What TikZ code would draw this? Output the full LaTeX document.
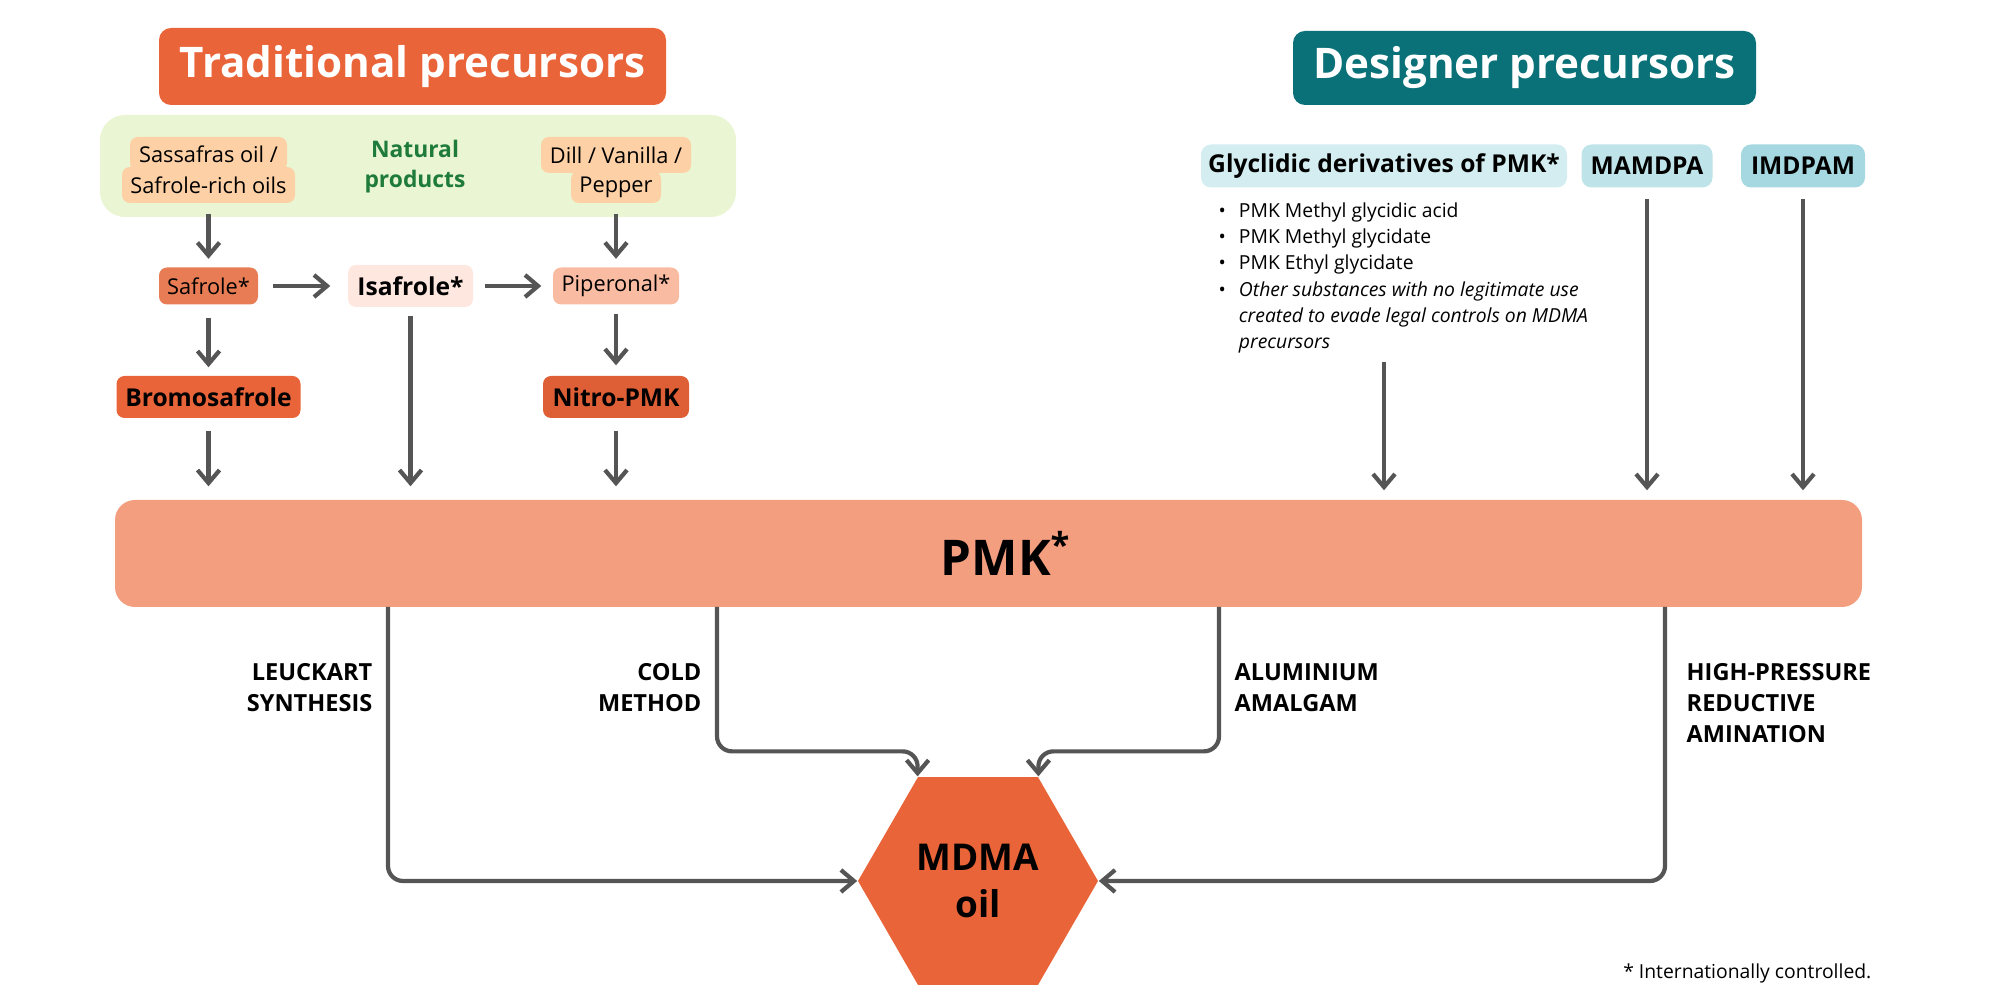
\documentclass[tikz,border=0pt]{standalone}
\usepackage{fontspec}
\setmainfont{Open Sans}
\usepackage{xcolor}
\usetikzlibrary{arrows.meta,positioning,shapes.geometric}
\definecolor{tradorange}{HTML}{EA6439}
\definecolor{desteal}{HTML}{0B7178}
\definecolor{natpanel}{HTML}{EAF5D3}
\definecolor{natgreen}{HTML}{1E7B3A}
\definecolor{peach}{HTML}{FDD0A6}
\definecolor{safcol}{HTML}{E87D55}
\definecolor{isacol}{HTML}{FDE7DF}
\definecolor{pipcol}{HTML}{F9BBA2}
\definecolor{pmkcol}{HTML}{F29E7F}
\definecolor{glycol}{HTML}{D3EDF0}
\definecolor{mamcol}{HTML}{BEE4E9}
\definecolor{imdcol}{HTML}{A5D8E0}
\definecolor{arrgray}{HTML}{555555}

\begin{document}
\begin{tikzpicture}[
  head/.style={rounded corners=1.2mm, text=white, inner sep=0pt,
    font=\fontsize{12}{14}\selectfont\bfseries},
  natline/.style={fill=peach, rounded corners=0.8mm, inner sep=0pt,
    font=\fontsize{6.2}{7}\selectfont},
  chem/.style={rounded corners=0.8mm, inner sep=0pt, minimum height=0.37cm,
    font=\fontsize{6.2}{7}\selectfont},
  chembold/.style={chem, minimum height=0.42cm, font=\fontsize{7}{8}\selectfont\bfseries},
  desbox/.style={rounded corners=1mm, inner sep=0pt, minimum height=0.43cm,
    font=\fontsize{7}{8}\selectfont\bfseries},
  route/.style={inner sep=0pt, font=\fontsize{6.7}{8.8}\selectfont\bfseries},
  arr/.style={-{Straight Barb[length=1.3mm,width=2.2mm]}, line width=1.2pt, draw=arrgray},
]
\useasboundingbox (0,0) rectangle (20,-10);

\node[head, fill=tradorange, minimum width=5.07cm, minimum height=0.77cm] (trad) at (4.125,-0.665) {Traditional precursors};
\node[head, fill=desteal, minimum width=4.63cm, minimum height=0.74cm] (design) at (15.245,-0.68) {Designer precursors};

\node[fill=natpanel, rounded corners=2.5mm, minimum width=6.36cm, minimum height=1.02cm] (natural) at (4.18,-1.66) {};
\node[natline, minimum width=1.73cm, minimum height=0.36cm] (sass2) at (2.085,-1.85) {Safrole-rich oils};
\node[natline, minimum width=1.57cm, minimum height=0.34cm] (sass1) at (2.085,-1.54) {Sassafras oil /};
\node[align=center, text=natgreen, inner sep=0pt, font=\fontsize{6.5}{8.5}\selectfont\bfseries] (natlbl) at (4.15,-1.67) {Natural\\products};
\node[natline, minimum width=0.90cm, minimum height=0.32cm] (dill2) at (6.16,-1.87) {Pepper};
\node[natline, minimum width=1.50cm, minimum height=0.36cm] (dill1) at (6.16,-1.55) {Dill / Vanilla /};

\node[chem, fill=safcol, minimum width=0.99cm] (safrole) at (2.085,-2.86) {Safrole*};
\node[chembold, fill=isacol, minimum width=1.25cm] (isafrole) at (4.105,-2.86) {Isafrole*};
\node[chem, fill=pipcol, minimum width=1.26cm] (piperonal) at (6.16,-2.86) {Piperonal*};
\node[chembold, fill=tradorange, minimum width=1.84cm] (bromo) at (2.085,-3.97) {Bromosafrole};
\node[chembold, fill=tradorange!95!black, minimum width=1.46cm] (nitro) at (6.16,-3.97) {Nitro-PMK};

\node[desbox, fill=glycol, minimum width=3.66cm] (glyc) at (13.84,-1.66) {Glyclidic derivatives of PMK*};
\node[desbox, fill=mamcol, minimum width=1.31cm] (mamdpa) at (16.47,-1.66) {MAMDPA};
\node[desbox, fill=imdcol, minimum width=1.24cm] (imdpam) at (18.03,-1.66) {IMDPAM};
\node[anchor=north west, inner sep=0pt, font=\fontsize{5.5}{7.5}\selectfont] (glyclist) at (12.18,-1.98) {%
  \begin{tabular}{@{}l@{\hspace{1.3mm}}l@{}}
  • & PMK Methyl glycidic acid\\
  • & PMK Methyl glycidate\\
  • & PMK Ethyl glycidate\\
  • & \textit{Other substances with no legitimate use}\\
    & \textit{created to evade legal controls on MDMA}\\
    & \textit{precursors}
  \end{tabular}};

\node[fill=pmkcol, rounded corners=2mm, minimum width=17.47cm, minimum height=1.07cm,
  font=\fontsize{14}{16}\selectfont\bfseries] (pmk) at (9.885,-5.535) {\hspace*{0.35cm}PMK\textsuperscript{*}};
\node[regular polygon, regular polygon sides=6, fill=tradorange,
  minimum size=2.4cm, inner sep=0pt, align=center,
  font=\fontsize{10.5}{13.4}\selectfont\bfseries] (mdma) at (9.78,-8.81) {MDMA\\oil};

\node[route, anchor=east, align=right] (leucklbl) at (3.73,-6.875) {LEUCKART\\SYNTHESIS};
\node[route, anchor=east, align=right] (coldlbl) at (7.02,-6.875) {COLD\\METHOD};
\node[route, anchor=west, align=left] (alumlbl) at (12.34,-6.875) {ALUMINIUM\\AMALGAM};
\node[route, anchor=west, align=left] (highlbl) at (16.86,-7.03) {HIGH-PRESSURE\\REDUCTIVE\\AMINATION};
\node[anchor=east, inner sep=0pt, font=\fontsize{5.5}{7}\selectfont] (note) at (18.72,-9.73) {* Internationally controlled.};

\coordinate (lk) at (3.88,-6.07);
\coordinate (cm) at (7.17,-6.07);
\coordinate (al) at (12.19,-6.07);
\coordinate (hp) at (16.65,-6.07);

\draw[arr, shorten <=1mm, shorten >=0.8mm] (sass2) -- (safrole);
\draw[arr, shorten <=1mm, shorten >=0.8mm] (dill2) -- (piperonal);
\draw[arr, shorten <=1.3mm, shorten >=0.8mm] (safrole) -- (bromo);
\draw[arr, shorten <=0.9mm, shorten >=1mm] (piperonal) -- (nitro);
\draw[arr, shorten <=1.4mm, shorten >=1.7mm] (safrole) -- (isafrole);
\draw[arr, shorten <=1.1mm, shorten >=1.1mm] (isafrole) -- (piperonal);
\draw[arr, shorten <=1.2mm, shorten >=1.3mm] (bromo) -- (bromo |- pmk.north);
\draw[arr, shorten <=0.8mm, shorten >=1.3mm] (isafrole) -- (isafrole |- pmk.north);
\draw[arr, shorten <=1.2mm, shorten >=1.3mm] (nitro) -- (nitro |- pmk.north);
\draw[arr, shorten <=0.4mm, shorten >=0.9mm] (glyc.south |- glyclist.south) -- (glyc.south |- pmk.north);
\draw[arr, shorten <=1.1mm, shorten >=0.9mm] (mamdpa) -- (mamdpa |- pmk.north);
\draw[arr, shorten <=1.1mm, shorten >=0.9mm] (imdpam) -- (imdpam |- pmk.north);

\draw[arr, rounded corners=1.5mm] (lk) |- (mdma.west);
\draw[arr, rounded corners=1.5mm] (cm) |- ([yshift=2.5mm]mdma.corner 2) -- (mdma.corner 2);
\draw[arr, rounded corners=1.5mm] (al) |- ([yshift=2.5mm]mdma.corner 1) -- (mdma.corner 1);
\draw[arr, rounded corners=1.5mm] (hp) |- (mdma.east);
\end{tikzpicture}
\end{document}
